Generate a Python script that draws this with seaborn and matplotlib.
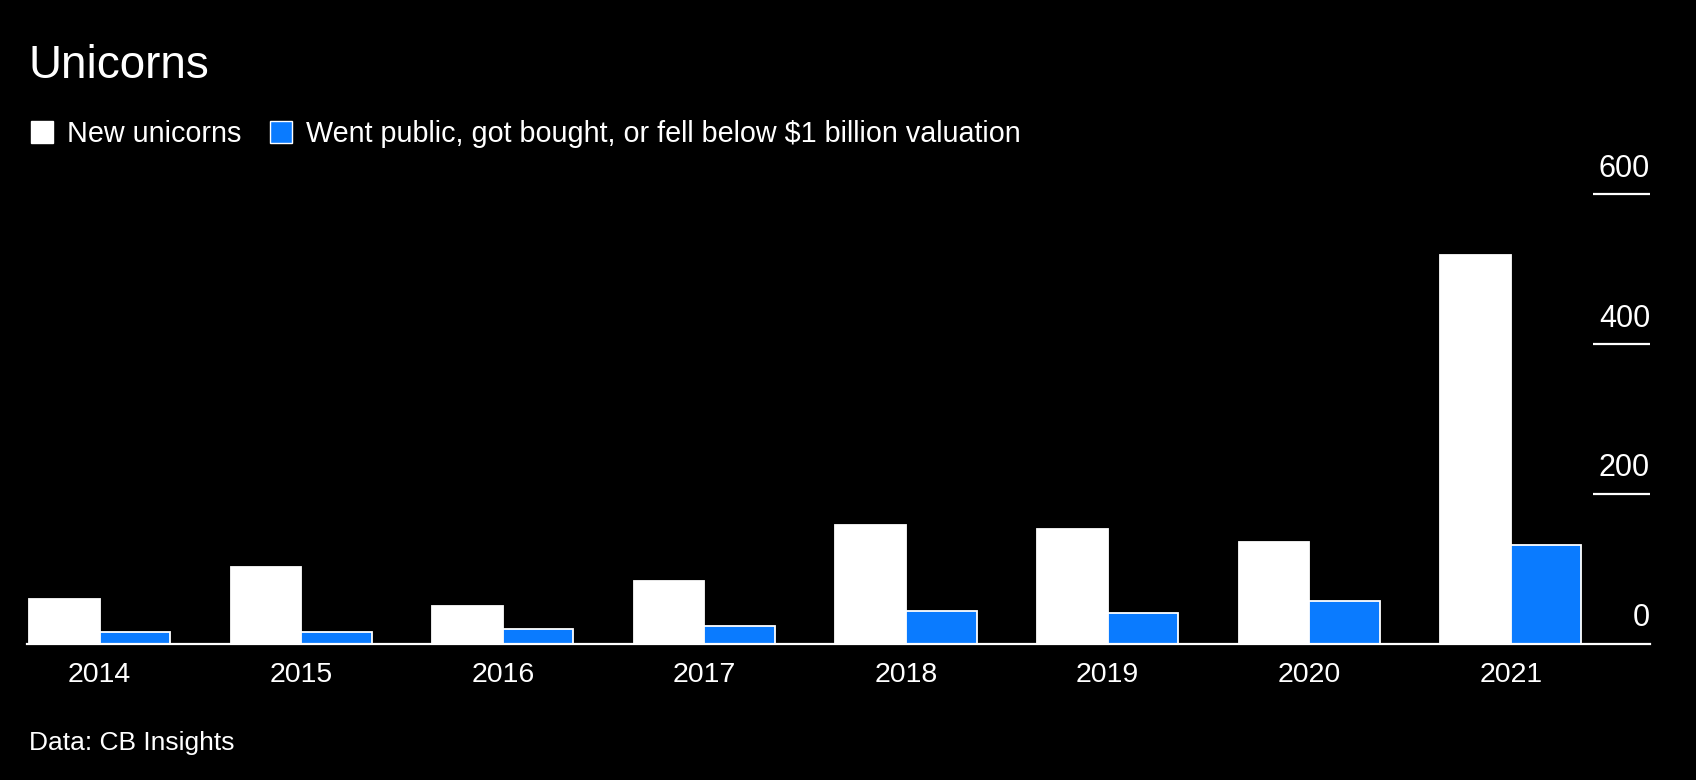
import matplotlib
matplotlib.use("Agg")
import matplotlib.pyplot as plt
import seaborn as sns
import pandas as pd
from matplotlib.patches import Patch

years = ["2014", "2015", "2016", "2017", "2018", "2019", "2020", "2021"]
new_unicorns = [60, 102, 50, 84, 159, 153, 135, 519]
exits = [16, 16, 19, 24, 43, 41, 57, 131]
series_names = ["New unicorns", "Went public, got bought, or fell below $1 billion valuation"]
y_ticks = [0, 200, 400, 600]

WHITE = "#ffffff"
BLUE = "#0a7bff"
BG = "#000000"

df = pd.DataFrame({
    "year": years * 2,
    "value": new_unicorns + exits,
    "series": [series_names[0]] * len(years) + [series_names[1]] * len(years),
})

sns.set_theme(style="dark")
plt.rcParams["font.family"] = ["Liberation Sans", "DejaVu Sans"]

fig = plt.figure(figsize=(16.96, 7.8), dpi=100, facecolor=BG)
W, H = 1696, 780
ax_left, ax_right = 27 / W, 1650 / W
ax_bottom, ax_top = 1 - 643.5 / H, 1 - 194.5 / H
ax = fig.add_axes([ax_left, ax_bottom, ax_right - ax_left, ax_top - ax_bottom])
ax.set_facecolor(BG)

sns.barplot(data=df, x="year", y="value", hue="series", hue_order=series_names,
            palette=[WHITE, BLUE], width=0.7, saturation=1, edgecolor=WHITE,
            linewidth=1.3, legend=False, ax=ax)

ax.set_xlim(-0.36, 7.69)
ax.set_ylim(0, 600)
ax.set_xlabel("")
ax.set_ylabel("")
ax.grid(False)
for s in ["top", "left", "right"]:
    ax.spines[s].set_visible(False)
ax.spines["bottom"].set_color(WHITE)
ax.spines["bottom"].set_linewidth(1.6)
ax.tick_params(axis="x", length=0, pad=13, labelsize=20.5, labelcolor=WHITE)
ax.set_yticks([])

# right-side value scale: short lines with labels above them
ax.hlines([t for t in y_ticks if t != 0], xmin=(1593 - 27) / (1650 - 27), xmax=1.0,
          transform=ax.get_yaxis_transform(), colors=WHITE, linewidth=1.6, clip_on=False)
for t in y_ticks:
    ax.annotate(str(t), xy=(1.0, t), xycoords=ax.get_yaxis_transform(),
                xytext=(0, 12.5), textcoords="offset points",
                ha="right", va="baseline", fontsize=22, color=WHITE, annotation_clip=False)

fig.text(29 / W, 1 - 78 / H, "Unicorns", fontsize=33, color=WHITE, ha="left", va="baseline")
fig.text(29 / W, 1 - 750 / H, "Data: CB Insights", fontsize=19, color=WHITE, ha="left", va="baseline")

handles = [Patch(facecolor=WHITE, edgecolor=WHITE, linewidth=1),
           Patch(facecolor=BLUE, edgecolor=WHITE, linewidth=1)]
fig.legend(handles, series_names, loc="upper left", bbox_to_anchor=(31 / W, 1 - 120 / H),
           ncol=2, frameon=False, fontsize=20.7, labelcolor=WHITE, handlelength=0.75,
           handleheight=0.75, handletextpad=0.5, columnspacing=1.0, borderpad=0,
           borderaxespad=0)

fig.savefig("out.png", dpi=100, facecolor=BG)
